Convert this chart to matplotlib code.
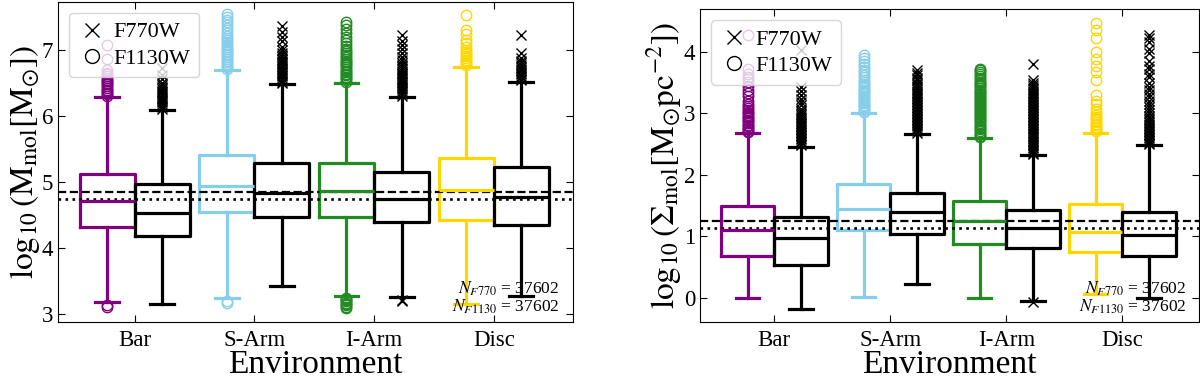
import numpy as np
import matplotlib
matplotlib.use("Agg")
import matplotlib.pyplot as plt
from matplotlib.lines import Line2D

plt.rcParams['font.family'] = 'serif'
plt.rcParams['font.serif'] = ['Liberation Serif', 'DejaVu Serif']
plt.rcParams['mathtext.fontset'] = 'stix'

envs = ["Bar", "S-Arm", "I-Arm", "Disc"]
env_colors = ["purple", "skyblue", "forestgreen", "gold"]
n_f770 = 37602
n_f1130 = 37602

# ---- molecular mass, log10(M_mol) ----
mass_f1130_q1 = [4.32, 4.55, 4.47, 4.42]
mass_f1130_med = [4.71, 4.94, 4.86, 4.88]
mass_f1130_q3 = [5.12, 5.41, 5.29, 5.37]
mass_f1130_lo = [3.18, 3.24, 3.27, 3.15]
mass_f1130_hi = [6.29, 6.70, 6.50, 6.75]
mass_f1130_fliers = [
    [6.31, 6.33, 6.35, 6.38, 6.40, 6.43, 6.45, 6.48, 6.50, 6.53, 6.55, 6.58, 6.60,
     6.63, 6.66, 6.70, 6.86, 7.07, 3.14, 3.10],
    [6.72, 6.74, 6.77, 6.79, 6.82, 6.84, 6.87, 6.89, 6.92, 6.94, 6.97, 6.99, 7.02,
     7.04, 7.07, 7.09, 7.12, 7.15, 7.18, 7.22, 7.26, 7.30, 7.34, 7.38, 7.42, 7.46,
     7.50, 7.54, 3.20, 3.16],
    [6.52, 6.54, 6.57, 6.59, 6.62, 6.64, 6.67, 6.69, 6.72, 6.74, 6.77, 6.79, 6.82,
     6.84, 6.87, 6.89, 6.92, 6.95, 6.98, 7.02, 7.06, 7.10, 7.15, 7.20, 7.26, 7.32,
     7.38, 7.43, 3.25, 3.23, 3.21, 3.19, 3.17, 3.15, 3.13, 3.11, 3.09],
    [6.78, 6.80, 6.83, 6.85, 6.88, 6.91, 6.94, 6.97, 7.00, 7.05, 7.10, 7.15, 7.25,
     7.30, 7.53],
]
mass_f770_q1 = [4.18, 4.47, 4.40, 4.35]
mass_f770_med = [4.53, 4.84, 4.74, 4.78]
mass_f770_q3 = [4.97, 5.29, 5.15, 5.23]
mass_f770_lo = [3.15, 3.42, 3.26, 3.28]
mass_f770_hi = [6.09, 6.48, 6.29, 6.52]
mass_f770_fliers = [
    [6.11, 6.13, 6.16, 6.18, 6.21, 6.23, 6.26, 6.28, 6.31, 6.33, 6.36, 6.38, 6.41,
     6.44, 6.47, 6.50, 6.56, 6.62, 6.73],
    [6.50, 6.52, 6.55, 6.57, 6.60, 6.62, 6.65, 6.67, 6.70, 6.72, 6.75, 6.77, 6.80,
     6.82, 6.85, 6.87, 6.90, 6.93, 6.96, 7.00, 7.05, 7.13, 7.20, 7.28, 7.36],
    [6.31, 6.33, 6.36, 6.38, 6.41, 6.43, 6.46, 6.48, 6.51, 6.53, 6.56, 6.58, 6.61,
     6.63, 6.66, 6.68, 6.71, 6.74, 6.77, 6.81, 6.85, 6.90, 6.95, 7.02, 7.08, 7.14,
     7.23, 3.22, 3.19],
    [6.54, 6.56, 6.59, 6.61, 6.64, 6.66, 6.69, 6.71, 6.74, 6.77, 6.80, 6.84, 6.88,
     6.95, 7.23],
]
mass_mean_f1130 = 4.85
mass_mean_f770 = 4.74

# ---- surface density, log10(Sigma_mol) ----
sd_f1130_q1 = [0.69, 1.10, 0.88, 0.75]
sd_f1130_med = [1.11, 1.45, 1.25, 1.08]
sd_f1130_q3 = [1.50, 1.86, 1.58, 1.53]
sd_f1130_lo = [0.00, 0.02, 0.00, 0.06]
sd_f1130_hi = [2.68, 3.00, 2.60, 2.69]
sd_f1130_fliers = [
    [2.70, 2.72, 2.75, 2.77, 2.80, 2.82, 2.85, 2.87, 2.90, 2.92, 2.95, 2.97, 3.00,
     3.03, 3.06, 3.09, 3.12, 3.16, 3.21, 3.28, 3.33, 3.38, 3.45, 3.51, 3.56, 3.59,
     3.64, 3.73, 4.27],
    [3.02, 3.04, 3.07, 3.09, 3.12, 3.14, 3.17, 3.19, 3.22, 3.24, 3.27, 3.29, 3.32,
     3.34, 3.37, 3.39, 3.42, 3.45, 3.48, 3.51, 3.55, 3.59, 3.63, 3.67, 3.71, 3.75,
     3.80, 3.85, 3.90, 3.95],
    [2.62, 2.64, 2.67, 2.69, 2.72, 2.74, 2.77, 2.79, 2.82, 2.84, 2.87, 2.89, 2.92,
     2.94, 2.97, 2.99, 3.02, 3.04, 3.07, 3.09, 3.12, 3.14, 3.17, 3.19, 3.22, 3.24,
     3.27, 3.29, 3.32, 3.34, 3.37, 3.39, 3.42, 3.44, 3.47, 3.49, 3.52, 3.55, 3.58,
     3.61, 3.64, 3.67, 3.70, 3.73],
    [2.71, 2.73, 2.76, 2.78, 2.81, 2.83, 2.86, 2.89, 2.92, 2.95, 2.98, 3.02, 3.08,
     3.15, 3.21, 3.30, 3.54, 3.67, 3.78, 3.89, 4.00, 4.22, 4.35, 4.47],
]
sd_f770_q1 = [0.53, 1.04, 0.82, 0.68]
sd_f770_med = [0.98, 1.39, 1.13, 1.02]
sd_f770_q3 = [1.32, 1.70, 1.43, 1.40]
sd_f770_lo = [-0.18, 0.22, -0.05, 0.00]
sd_f770_hi = [2.46, 2.67, 2.32, 2.48]
sd_f770_fliers = [
    [2.48, 2.50, 2.53, 2.55, 2.58, 2.60, 2.63, 2.65, 2.68, 2.70, 2.73, 2.75, 2.78,
     2.80, 2.83, 2.85, 2.88, 2.91, 2.94, 2.97, 3.00, 3.04, 3.08, 3.13, 3.18, 3.24,
     3.30, 3.36, 3.43, 4.04],
    [2.69, 2.71, 2.74, 2.76, 2.79, 2.81, 2.84, 2.86, 2.89, 2.91, 2.94, 2.96, 2.99,
     3.01, 3.04, 3.06, 3.09, 3.11, 3.14, 3.16, 3.19, 3.21, 3.24, 3.26, 3.29, 3.31,
     3.34, 3.37, 3.40, 3.43, 3.46, 3.50, 3.54, 3.58, 3.62, 3.66, 3.70],
    [2.34, 2.36, 2.39, 2.41, 2.44, 2.46, 2.49, 2.51, 2.54, 2.56, 2.59, 2.61, 2.64,
     2.66, 2.69, 2.71, 2.74, 2.76, 2.79, 2.81, 2.84, 2.86, 2.89, 2.91, 2.94, 2.96,
     2.99, 3.01, 3.04, 3.06, 3.09, 3.11, 3.14, 3.16, 3.19, 3.21, 3.24, 3.26, 3.29,
     3.31, 3.34, 3.37, 3.40, 3.43, 3.46, 3.50, 3.54, 3.80, -0.07],
    [2.50, 2.52, 2.55, 2.57, 2.60, 2.62, 2.65, 2.67, 2.70, 2.72, 2.75, 2.77, 2.80,
     2.83, 2.86, 2.89, 2.92, 2.96, 3.00, 3.05, 3.10, 3.16, 3.20, 3.27, 3.32, 3.38,
     3.43, 3.50, 3.59, 3.65, 3.72, 3.78, 3.86, 3.98, 4.05, 4.16, 4.22, 4.27],
]
sd_mean_f1130 = 1.25
sd_mean_f770 = 1.14


def make_stats(q1, med, q3, lo, hi, fliers):
    return [dict(q1=a, med=b, q3=c, whislo=d, whishi=e, fliers=np.array(f))
            for a, b, c, d, e, f in zip(q1, med, q3, lo, hi, fliers)]


def draw_box(ax, stat, pos, color, marker):
    props = dict(color=color, linewidth=2.3)
    ax.bxp([stat], positions=[pos], widths=0.46, capwidths=0.2,
           boxprops=props, whiskerprops=props, capprops=props, medianprops=props,
           flierprops=dict(marker=marker, markeredgecolor=color, markerfacecolor='none',
                           markersize=7.5, markeredgewidth=1.0, linestyle='none'),
           manage_ticks=False)


def draw_panel(ax, stats_1130, stats_770, mean_dash, mean_dot, ylabel, ylim, yticks):
    x = np.arange(1, len(envs) + 1)
    for i in range(len(envs)):
        draw_box(ax, stats_1130[i], x[i] - 0.23, env_colors[i], 'o')
        draw_box(ax, stats_770[i], x[i] + 0.23, 'black', 'x')

    ax.axhline(mean_dash, color='k', ls='--', lw=1.6)
    ax.axhline(mean_dot, color='k', ls=':', lw=1.9)

    ax.set_xlim(0.36, 4.66)
    ax.set_ylim(*ylim)
    ax.set_xticks(x)
    ax.set_xticklabels(envs)
    ax.set_yticks(yticks)
    ax.tick_params(direction='in', top=True, right=True, labelsize=16.5, length=5)
    ax.tick_params(axis='x', pad=6)
    ax.set_xlabel("Environment", fontsize=24, labelpad=-1)
    ax.set_ylabel(ylabel, fontsize=24, labelpad=0)

    handles = [Line2D([], [], marker='x', color='k', ls='none', ms=10),
               Line2D([], [], marker='o', color='k', mfc='none', ls='none', ms=10)]
    ax.legend(handles, ["F770W", "F1130W"], loc='upper left', fontsize=16,
              handletextpad=0.3, borderpad=0.4, labelspacing=0.25, handlelength=1.3)

    ax.text(0.975, 0.018, "$N_{F770}$ = %d\n$N_{F1130}$ = %d" % (n_f770, n_f1130),
            transform=ax.transAxes, ha='right', va='bottom', fontsize=12.5, linespacing=1.0)


if __name__ == "__main__":
    fig = plt.figure(figsize=(12, 3.81), dpi=100)
    ax1 = fig.add_axes([0.0483, 0.155, 0.429, 0.840])
    ax2 = fig.add_axes([0.5833, 0.155, 0.4158, 0.8215])

    draw_panel(ax1,
               make_stats(mass_f1130_q1, mass_f1130_med, mass_f1130_q3,
                          mass_f1130_lo, mass_f1130_hi, mass_f1130_fliers),
               make_stats(mass_f770_q1, mass_f770_med, mass_f770_q3,
                          mass_f770_lo, mass_f770_hi, mass_f770_fliers),
               mass_mean_f1130, mass_mean_f770,
               r"$\log_{10}(\mathrm{M_{mol}}[\mathrm{M_{\odot}}])$",
               (2.88, 7.73), [3, 4, 5, 6, 7])

    draw_panel(ax2,
               make_stats(sd_f1130_q1, sd_f1130_med, sd_f1130_q3,
                          sd_f1130_lo, sd_f1130_hi, sd_f1130_fliers),
               make_stats(sd_f770_q1, sd_f770_med, sd_f770_q3,
                          sd_f770_lo, sd_f770_hi, sd_f770_fliers),
               sd_mean_f1130, sd_mean_f770,
               r"$\log_{10}(\Sigma_{\mathrm{mol}}[\mathrm{M_{\odot}pc^{-2}}])$",
               (-0.39, 4.70), [0, 1, 2, 3, 4])

    fig.savefig("out.png", dpi=100)
